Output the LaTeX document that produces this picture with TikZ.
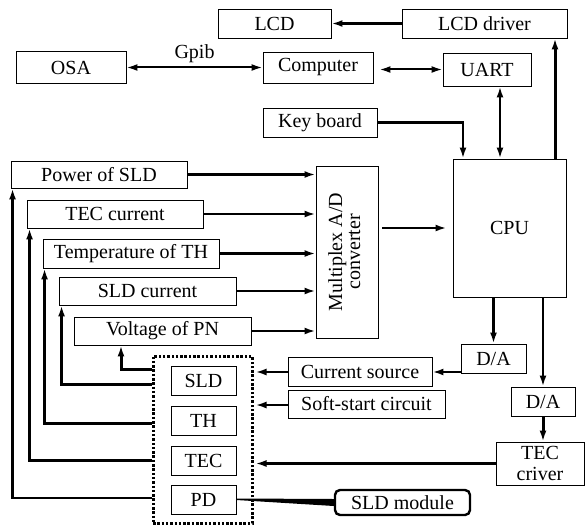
\documentclass[tikz,border=0pt]{standalone}
\usepackage{fontspec}
\setmainfont{Liberation Serif}
\usetikzlibrary{arrows.meta}
\tikzset{
  box/.style={draw, line width=0.9pt, inner sep=0pt, font=\fontsize{20}{21}\selectfont},
  tip/.tip={Latex[length=11pt,width=7pt]},
  arr/.style={line width=2.5pt, -tip},
  arrr/.style={line width=2.5pt, tip-tip},
  fb/.style={line width=3pt, -tip},
}
\begin{document}
\begin{tikzpicture}[x=1pt,y=-1pt]
\useasboundingbox (0,0) rectangle (585,524);
% top
\node[box, minimum width=113, minimum height=29] (lcd) at (274.5,23.5) {LCD};
\node[box, minimum width=165, minimum height=29] (lcddrv) at (484.5,23.5) {LCD driver};
\node[box, minimum width=110, minimum height=32] (osa) at (71,67.5) {OSA};
\node[box, minimum width=110, minimum height=31] (comp) at (318,67.5) {Computer};
\node[box, minimum width=88, minimum height=33] (uart) at (487,69.5) {UART};
\node[box, minimum width=114, minimum height=29] (kb) at (320,122.5) {Key board};
\node[box, minimum width=113, minimum height=138] (cpu) at (509.5,228) {CPU};
\node[box, minimum width=62, minimum height=172] (mux) at (347,252)
  {\rotatebox{90}{\begin{tabular}{@{}c@{}}Multiplex A/D\\[-3pt]converter\end{tabular}}};
% left measured values
\node[box, minimum width=176, minimum height=27] (pw) at (99,174.5) {Power of SLD};
\node[box, minimum width=176, minimum height=28] (tecc) at (115,214) {TEC current};
\node[box, minimum width=176, minimum height=29] (temp) at (131,253.5) {Temperature of TH};
\node[box, minimum width=177, minimum height=28] (sldc) at (147.5,291) {SLD current};
\node[box, minimum width=177, minimum height=28] (volt) at (162.5,331) {Voltage of PN};
% module
\node[draw, line width=3pt, dash pattern=on 2.5pt off 1.8pt, minimum width=99, minimum height=167, inner sep=0pt] (dot) at (202.5,439.5) {};
\node[box, minimum width=65, minimum height=29] (sld) at (203.5,380.5) {SLD};
\node[box, minimum width=65, minimum height=29] (th) at (203.5,420.5) {TH};
\node[box, minimum width=65, minimum height=29] (tec) at (203.5,460.5) {TEC};
\node[box, minimum width=65, minimum height=29] (pd) at (203.5,499.5) {PD};
% right bottom
\node[box, minimum width=144, minimum height=29] (cs) at (360,372) {Current source};
\node[box, minimum width=157, minimum height=28] (soft) at (366.5,404) {Soft-start circuit};
\node[box, minimum width=65, minimum height=29] (da1) at (493.5,358.5) {D/A};
\node[box, minimum width=64, minimum height=29] (da2) at (543,401.5) {D/A};
\node[box, minimum width=88, minimum height=43, align=center] (tecd) at (540,463.5) {TEC\\criver};
\node[box, draw, line width=2.4pt, rounded corners=5pt, minimum width=135, minimum height=25] (slm) at (402.5,502.5) {SLD module};
% connectors top
\draw[arr] (lcddrv.west) -- (lcd.east);
\draw[line width=2pt, tip-tip] (osa.east) -- node[above=0pt, font=\fontsize{20}{21}\selectfont] (gpib) {Gpib} (comp.west);
\draw[line width=2pt, tip-tip, shorten <=6pt] (comp.east |- uart.west) -- (uart.west);
\draw[arr] (kb.east) -| ([xshift=-46.5pt]cpu.north);
\draw[arrr] ([xshift=13pt]uart.south) -- ([xshift=13pt]uart.south |- cpu.north);
\draw[line width=3pt, -tip] ([xshift=45.5pt]cpu.north) -- ([xshift=45.5pt]cpu.north |- lcddrv.south);
\draw[arr, shorten <=4pt, shorten >=6pt] (mux.east |- cpu.west) -- (cpu.west);
% inputs to mux
\draw[arr] (pw.east) -- (pw.east -| mux.west);
\draw[arr] (tecc.east) -- (tecc.east -| mux.west);
\draw[arr] (temp.east) -- (temp.east -| mux.west);
\draw[arr] (sldc.east) -- (sldc.east -| mux.west);
\draw[arr] (volt.east) -- (volt.east -| mux.west);
% feedback lines
\draw[line width=2.2pt, -tip] ([yshift=1.5pt]pd.west -| dot.west) -| ([xshift=2pt]pw.south west);
\draw[fb] (tec.west -| dot.west) -| ([xshift=3pt]tecc.south west);
\draw[fb] ([yshift=-2.5pt]th.west -| dot.west) -| ([xshift=2pt]temp.south west);
\draw[fb] ([yshift=-4pt]sld.west -| dot.west) -| ([xshift=3pt]sldc.south west);
\draw[fb] ([yshift=11.5pt]sld.west -| dot.west) -| ([xshift=-41.5pt]volt.south);
% right bottom connectors
\draw[arr, shorten >=2pt] (cs.west) -- (cs.west -| dot.east);
\draw[arr, shorten >=2pt] ([yshift=-1pt]soft.west) -- ([yshift=-1pt]soft.west -| dot.east);
\draw[arr] (cs.east -| da1.west) -- (cs.east);
\draw[arr] (da1.north |- cpu.south) -- (da1.north);
\draw[arr] (da2.north |- cpu.south) -- (da2.north);
\draw[line width=3pt, -tip] (da2.south) -- (da2.south |- tecd.north);
\draw[arr, shorten >=2pt] (tecd.west) -- (tecd.west -| dot.east);
\fill ([yshift=1pt]pd.east) -- ([yshift=3.5pt]slm.west) -- ([yshift=-3.5pt]slm.west) -- ([yshift=-0.5pt]pd.east) -- cycle;
\end{tikzpicture}
\end{document}
